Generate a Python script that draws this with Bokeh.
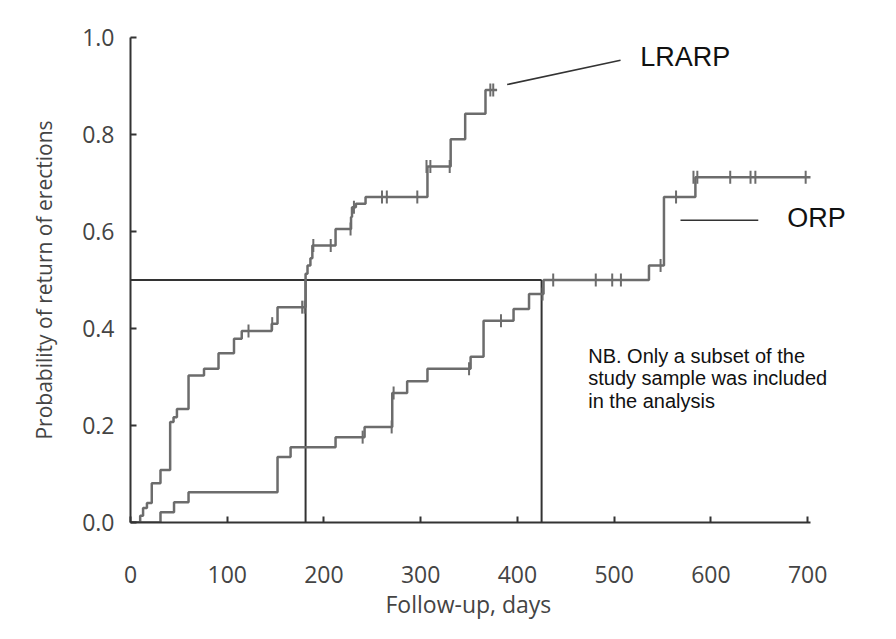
import numpy as np
from bokeh.plotting import figure
from bokeh.models import Range1d, FixedTicker, Label, PrintfTickFormatter, Title
from bokeh.embed import file_html
from bokeh.resources import INLINE

# ---- data ----
lrarp_t = [0, 10, 13, 17, 22, 31, 41, 44.5, 48, 60, 76, 91, 107, 115, 146, 152,
           181, 183, 186, 188, 212, 228, 229, 233, 243, 307, 331, 346, 367, 379]
lrarp_s = [0, 0.014, 0.03, 0.04, 0.081, 0.108, 0.207, 0.217, 0.234, 0.303, 0.317,
           0.349, 0.379, 0.395, 0.41, 0.444, 0.513, 0.53, 0.545, 0.571, 0.605,
           0.63, 0.65, 0.657, 0.671, 0.734, 0.79, 0.843, 0.892, 0.892]
lrarp_cens_t = [122, 146.5, 177.5, 180, 189, 207, 227.5, 231, 260, 265, 296.5,
                306, 310, 330, 372, 375]
lrarp_cens_s = [0.395, 0.41, 0.444, 0.444, 0.571, 0.571, 0.605, 0.65, 0.671,
                0.671, 0.671, 0.734, 0.734, 0.734, 0.892, 0.892]

orp_t = [0, 31, 45, 60, 152, 165.5, 212, 242, 270.6, 286, 307, 351.6, 365, 396,
         412, 427, 536, 551.5, 584, 703]
orp_s = [0, 0.021, 0.042, 0.0625, 0.135, 0.155, 0.176, 0.197, 0.267, 0.291,
         0.317, 0.342, 0.416, 0.44, 0.471, 0.5, 0.53, 0.671, 0.712, 0.712]
orp_cens_t = [240, 270, 272, 350, 383, 426, 437, 481, 498, 507, 548, 564, 582,
              586, 620, 641, 646, 698]
orp_cens_s = [0.176, 0.197, 0.267, 0.317, 0.416, 0.471, 0.5, 0.5, 0.5, 0.5,
              0.53, 0.671, 0.712, 0.712, 0.712, 0.712, 0.712, 0.712]

median_level = 0.5
median_lrarp = 181
median_orp = 425

x_ticks = [0, 100, 200, 300, 400, 500, 600, 700]
y_ticks = [0.0, 0.2, 0.4, 0.6, 0.8, 1.0]
x_axis_end = 703

x_title = "Follow-up, days"
y_title = "Probability of return of erections"
nb_lines = ["NB. Only a subset of the", "study sample was included", "in the analysis"]

# ---- styles ----
CURVE = "#6c6c6c"
DARK = "#333333"
TICK_FONT = "Open Sans"
ANN_FONT = "Liberation Sans"

p = figure(width=896, height=639, output_backend="svg", toolbar_location=None,
           x_range=Range1d(0, 785.7), y_range=Range1d(0, 1.0),
           min_border_left=130, min_border_right=6,
           min_border_top=37, min_border_bottom=117)
p.outline_line_color = None
p.grid.visible = False
p.background_fill_color = "white"

# axes
for ax in (p.xaxis[0], p.yaxis[0]):
    ax.axis_line_width = 2
    ax.axis_line_color = DARK
    ax.major_tick_in = 6
    ax.major_tick_out = 0
    ax.major_tick_line_width = 2
    ax.major_tick_line_color = DARK
    ax.minor_tick_in = 0
    ax.minor_tick_out = 0
    ax.major_label_text_font = TICK_FONT
    ax.major_label_text_font_size = "23px"
    ax.major_label_text_color = "#444444"
    ax.axis_label_text_font = TICK_FONT
    ax.axis_label_text_font_style = "normal"
    ax.axis_label_text_font_size = "21px"
    ax.axis_label_text_color = "#444444"

p.xaxis.ticker = FixedTicker(ticks=x_ticks)
p.xaxis.bounds = (0, x_axis_end)
p.xaxis.major_label_standoff = 43

p.yaxis.ticker = FixedTicker(ticks=y_ticks)
p.yaxis.formatter = PrintfTickFormatter(format="%.1f")
p.yaxis.major_label_standoff = 16
p.yaxis.axis_label = y_title
p.yaxis.axis_label_standoff = 21

# x-axis title, centred under the 0-700 axis (frame extends further right)
p.add_layout(Title(text=x_title, align="left", offset=255, standoff=0,
                   text_font=TICK_FONT, text_font_size="23px",
                   text_font_style="normal", text_color="#444444"), "below")

# median reference lines
p.segment(x0=[0, median_lrarp, median_orp], y0=[median_level, 0, 0],
          x1=[median_orp, median_lrarp, median_orp],
          y1=[median_level, median_level, median_level],
          line_color=DARK, line_width=2)

# KM curves
p.step(lrarp_t, lrarp_s, mode="after", line_color=CURVE, line_width=2.5)
p.step(orp_t, orp_s, mode="after", line_color=CURVE, line_width=2.5)

# censor marks
p.scatter(lrarp_cens_t, lrarp_cens_s, marker="dash", angle=np.pi / 2, size=13,
          line_color=CURVE, line_width=2)
p.scatter(orp_cens_t, orp_cens_s, marker="dash", angle=np.pi / 2, size=13,
          line_color=CURVE, line_width=2)

# curve labels with pointer lines
p.line([389.4, 506.6], [0.903, 0.953], line_color=DARK, line_width=1.5)
p.line([568.6, 649.0], [0.623, 0.623], line_color=DARK, line_width=1.5)

p.add_layout(Label(x=527, y=0.959, text="LRARP", text_font=ANN_FONT,
                   text_font_size="27px", text_baseline="middle",
                   text_color="#111111"))
p.add_layout(Label(x=679, y=0.627, text="ORP", text_font=ANN_FONT,
                   text_font_size="27px", text_baseline="middle",
                   text_color="#111111"))

nb_y = [0.3443, 0.2979, 0.2515]
for txt, yy in zip(nb_lines, nb_y):
    p.add_layout(Label(x=473.2, y=yy, text=txt, text_font=ANN_FONT,
                       text_font_size="20px", text_baseline="alphabetic",
                       text_color="#111111"))

open("out.html", "w").write(file_html(p, INLINE))
